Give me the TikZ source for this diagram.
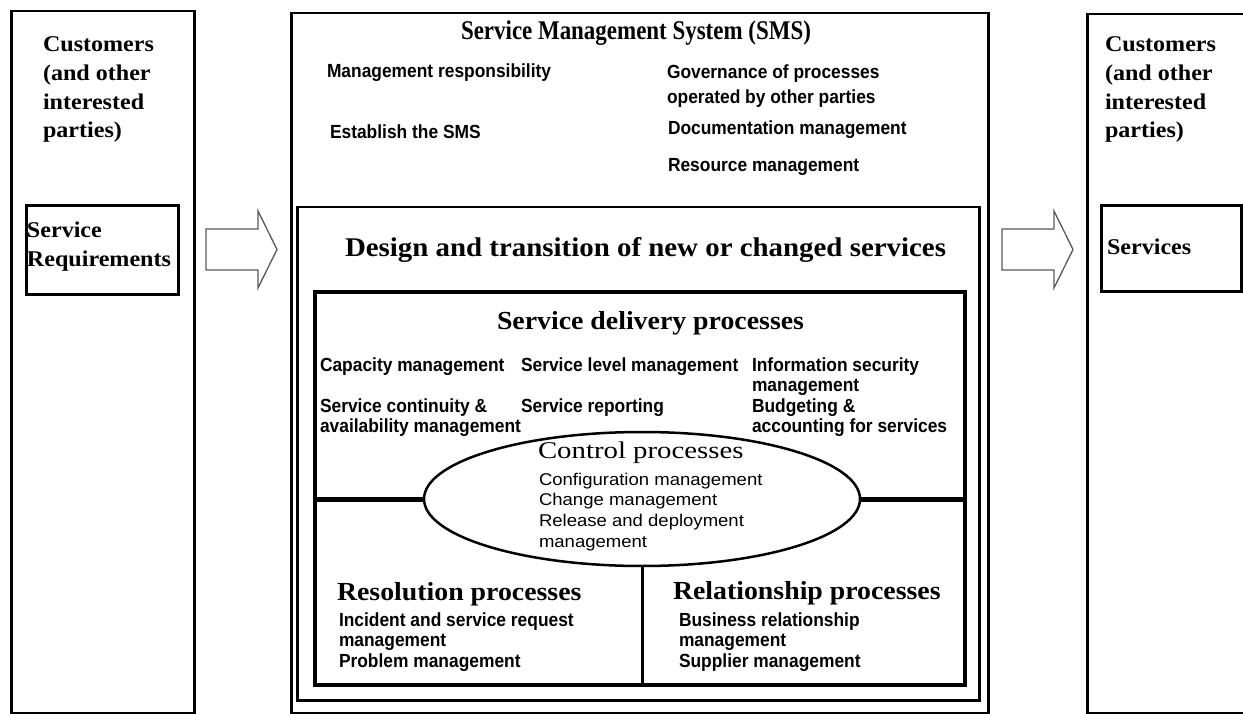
\documentclass[tikz,border=0pt]{standalone}
\usepackage{fontspec}
\usetikzlibrary{shapes.geometric}
\newfontfamily\sbA[FakeStretch=1.07]{Liberation Serif}
\newfontfamily\sbC[FakeStretch=0.85]{Liberation Serif}
\newfontfamily\srC[FakeStretch=1.2]{Liberation Serif}
\newfontfamily\nb[FakeStretch=0.915]{Liberation Sans}
\newfontfamily\nr[FakeStretch=1.09]{Liberation Sans}
\newcommand\fs[1]{\fontsize{#1}{#1}\selectfont}
\begin{document}
\begin{tikzpicture}[x=1pt,y=-1pt,
  txt/.style={inner sep=0pt, outer sep=0pt, anchor=base west},
  sertitle/.style={txt, font=\sbA\bfseries\fs{26}},
  serside/.style={txt, font=\sbA\bfseries\fs{22.5}},
  sanb/.style={txt, font=\nb\bfseries\fs{19}},
  sanr/.style={txt, font=\nr\fs{17}},
  box/.style={draw, line width=2.5pt, inner sep=0pt, anchor=north west},
  blockarrow/.style={draw=black!65, line width=1.3pt, fill=white, line join=miter}
]
\useasboundingbox (0,0) rectangle (1243,714);

% ---- boxes ----
\node[box, minimum width=183pt, minimum height=702pt] (lbox) at (10,10) {};
\node[box, line width=3pt, minimum width=152pt, minimum height=89pt] (req) at (25,204) {};
\node[box, minimum width=697pt, minimum height=700pt] (sms) at (290,12) {};
\node[box, minimum width=682pt, minimum height=493pt] (design) at (296,206) {};
\node[box, line width=4pt, minimum width=650pt, minimum height=393pt] (sd) at (313,290) {};
\node[box, minimum width=180pt, minimum height=699pt] (rbox) at (1086,13) {};
\node[box, line width=3pt, minimum width=140pt, minimum height=86pt] (svc) at (1100,204) {};

% ---- control ellipse and dividers ----
\node[draw, ellipse, line width=2.5pt, inner sep=0pt, minimum width=436pt, minimum height=134pt] (ctrl) at (642,499) {};
\draw[line width=5pt] (sd.west |- ctrl.west) -- (ctrl.west);
\draw[line width=5pt] (ctrl.east) -- (sd.east |- ctrl.east);
\draw[line width=3pt] (ctrl.south) -- (ctrl.south |- sd.south);

% ---- block arrows ----
\coordinate (a1) at (206,229);
\coordinate (a2) at (1002,229);
\foreach \c in {a1,a2}{
  \draw[blockarrow] (\c) -- ++(52,0) -- ++(0,-18) -- ++(19,38.5) -- ++(-19,38.5) -- ++(0,-18) -- ++(-52,0) -- cycle;
}

% ---- left column ----
\node[serside] (lc1) at (43,52) {Customers};
\node[serside] (lc2) at (43,81) {(and other};
\node[serside] (lc3) at (43,109.5) {interested};
\node[serside] (lc4) at (43,138) {parties)};
\node[serside] (rq1) at (27,238) {Service};
\node[serside] (rq2) at (27,267) {Requirements};

% ---- right column ----
\node[serside] (rc1) at (1105,52) {Customers};
\node[serside] (rc2) at (1105,81) {(and other};
\node[serside] (rc3) at (1105,109.5) {interested};
\node[serside] (rc4) at (1105,138) {parties)};
\node[serside] (sv1) at (1107,255) {Services};

% ---- SMS ----
\node[txt, font=\sbC\bfseries\fs{27}] (smst) at (461,40) {Service Management System (SMS)};
\node[sanb] (m1) at (327,78) {Management responsibility};
\node[sanb] (m2) at (667,79) {Governance of processes};
\node[sanb] (m3) at (667,104) {operated by other parties};
\node[sanb] (m4) at (330,139) {Establish the SMS};
\node[sanb] (m5) at (668,135) {Documentation management};
\node[sanb] (m6) at (668,172) {Resource management};

% ---- design and transition ----
\node[sertitle, font=\sbA\bfseries\fs{27}] (dt) at (345,257) {Design and transition of new or changed services};

% ---- service delivery ----
\node[sertitle] (sdt) at (497,330) {Service delivery processes};
\node[sanb] (d1) at (320,371) {Capacity management};
\node[sanb] (d2) at (521,371) {Service level management};
\node[sanb] (d3) at (752,371) {Information security};
\node[sanb] (d4) at (752,391) {management};
\node[sanb] (d5) at (320,412) {Service continuity \&};
\node[sanb] (d6) at (320,432) {availability management};
\node[sanb] (d7) at (521,412) {Service reporting};
\node[sanb] (d8) at (752,412) {Budgeting \&};
\node[sanb] (d9) at (752,432) {accounting for services};

% ---- control ----
\node[txt, font=\srC\fs{24}] (ct) at (538,458) {Control processes};
\node[sanr] (c1) at (539,485) {Configuration management};
\node[sanr] (c2) at (539,505) {Change management};
\node[sanr] (c3) at (539,526) {Release and deployment};
\node[sanr] (c4) at (539,547) {management};

% ---- resolution ----
\node[sertitle] (rst) at (337,600) {Resolution processes};
\node[sanb] (r1) at (339,626) {Incident and service request};
\node[sanb] (r2) at (339,646) {management};
\node[sanb] (r3) at (339,667) {Problem management};

% ---- relationship ----
\node[sertitle] (rlt) at (673,599) {Relationship processes};
\node[sanb] (l1) at (679,626) {Business relationship};
\node[sanb] (l2) at (679,646) {management};
\node[sanb] (l3) at (679,667) {Supplier management};
\end{tikzpicture}
\end{document}
